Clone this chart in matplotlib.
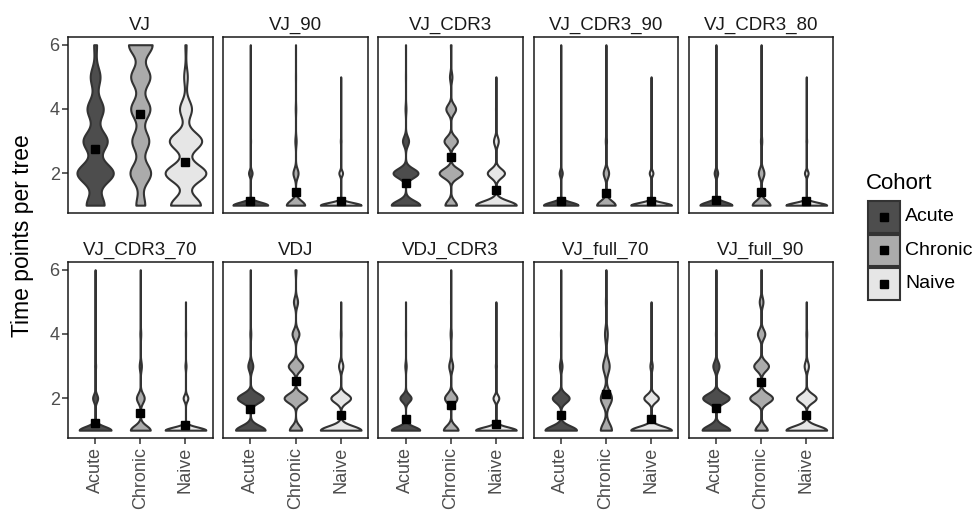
import numpy as np
import matplotlib
matplotlib.use("Agg")
from matplotlib import pyplot as plt
from matplotlib.patches import Rectangle
from matplotlib.lines import Line2D

plt.rcParams['font.family'] = ['Liberation Sans', 'DejaVu Sans']

# number of trees with 1..6 time points, per cohort (Acute, Chronic, Naive)
time_points = np.array([1, 2, 3, 4, 5, 6])
cohorts = ["Acute", "Chronic", "Naive"]
colors = ["#4D4D4D", "#ABABAB", "#E6E6E6"]

methods = ["VJ", "VJ_90", "VJ_CDR3", "VJ_CDR3_90", "VJ_CDR3_80",
           "VJ_CDR3_70", "VDJ", "VDJ_CDR3", "VJ_full_70", "VJ_full_90"]

vj = [[150, 305, 203, 136, 82, 24],
      [246, 570, 468, 531, 531, 654],
      [75, 102, 81, 30, 9, 3]]
vj_90 = [[1780, 180, 24, 8, 4, 4],
         [1440, 400, 100, 40, 14, 6],
         [1800, 160, 30, 8, 2, 0]]
vj_cdr3 = [[940, 820, 200, 30, 6, 4],
           [380, 760, 440, 320, 80, 20],
           [1280, 540, 150, 24, 6, 0]]
vj_cdr3_90 = [[1800, 160, 20, 10, 6, 4],
              [1440, 420, 90, 34, 12, 4],
              [1800, 160, 30, 8, 2, 0]]
vj_cdr3_80 = [[1760, 190, 30, 10, 6, 4],
              [1400, 440, 100, 40, 14, 6],
              [1800, 160, 30, 8, 2, 0]]
vj_cdr3_70 = [[1660, 260, 50, 20, 6, 4],
              [1280, 500, 140, 56, 18, 6],
              [1740, 200, 44, 12, 4, 0]]
vdj = [[960, 840, 160, 30, 6, 4],
       [400, 740, 470, 224, 134, 32],
       [1240, 600, 130, 24, 6, 0]]
vdj_cdr3 = [[1380, 540, 66, 10, 4, 0],
            [900, 760, 240, 70, 24, 6],
            [1700, 240, 44, 12, 4, 0]]
vj_full_70 = [[1220, 650, 100, 20, 6, 4],
              [680, 680, 400, 170, 60, 10],
              [1400, 500, 80, 16, 4, 0]]
vj_full_90 = [[900, 860, 200, 30, 6, 4],
              [400, 740, 480, 240, 120, 20],
              [1240, 600, 130, 24, 6, 0]]

all_counts = [vj, vj_90, vj_cdr3, vj_cdr3_90, vj_cdr3_80,
              vj_cdr3_70, vdj, vdj_cdr3, vj_full_70, vj_full_90]


def violin_density(counts):
    # gaussian kde with R's bw.nrd0, trimmed to the data range (like geom_violin)
    counts = np.asarray(counts)
    x = np.repeat(time_points, counts)
    n = len(x)
    sd = x.std(ddof=1)
    q75, q25 = np.percentile(x, [75, 25])
    lo = min(sd, (q75 - q25) / 1.34)
    if lo == 0:
        lo = sd
    bw = 0.9 * lo * n ** -0.2
    y = np.linspace(x.min(), x.max(), 512)
    k = np.exp(-0.5 * ((y[None, :] - time_points[:, None]) / bw) ** 2)
    dens = (counts[:, None] * k).sum(0) / (n * bw * np.sqrt(2 * np.pi))
    return y, dens, x.mean()


fig = plt.figure(figsize=(9.76, 5.22), dpi=100)
W, H = 976.0, 522.0
pw, ph = 144.6, 176.5

for idx, (name, counts) in enumerate(zip(methods, all_counts)):
    r, c = divmod(idx, 5)
    left = 68 + c * 155.2
    top = 36.7 + r * 225
    ax = fig.add_axes([left / W, 1 - (top + ph) / H, pw / W, ph / H])

    res = [violin_density(cc) for cc in counts]
    dmax = max(d.max() for _, d, _ in res)
    for i, (y, d, m) in enumerate(res):
        w = d / dmax * 0.45
        ax.fill_betweenx(y, i + 1 - w, i + 1 + w, facecolor=colors[i],
                         edgecolor="#333333", linewidth=1.5, zorder=2)
        ax.plot(i + 1, m, marker="s", color="black", markersize=6, zorder=3)

    ax.set_xlim(0.4, 3.6)
    ax.set_ylim(0.75, 6.25)
    ax.set_title(name, fontsize=13.5, color="#1A1A1A", pad=5)
    for s in ax.spines.values():
        s.set_linewidth(1.1)
        s.set_color("#1A1A1A")
    ax.tick_params(colors="#333333", labelcolor="#4D4D4D", length=4,
                   width=1.1, labelsize=13, pad=2)
    if c == 0:
        ax.set_yticks([2, 4, 6])
    else:
        ax.set_yticks([])
    if r == 1:
        ax.set_xticks([1, 2, 3])
        ax.set_xticklabels(cohorts, rotation=90)
    else:
        ax.set_xticks([])

fig.text(23 / W, 1 - 236 / H, "Time points per tree", rotation=90,
         fontsize=16.5, ha="center", va="center", color="black")

# legend drawn by hand so the keys touch like ggplot's
fig.text(866 / W, 1 - 183 / H, "Cohort", fontsize=16, ha="left", va="center")
key = 33.5
for i, (lab, col) in enumerate(zip(cohorts, colors)):
    ky = 200 + i * key
    fig.add_artist(Rectangle((868 / W, 1 - (ky + key - 1) / H), (key - 2) / W, (key - 2) / H,
                             transform=fig.transFigure, facecolor=col,
                             edgecolor="#333333", linewidth=1.5))
    fig.add_artist(Line2D([(868 + key / 2 - 1) / W], [1 - (ky + key / 2) / H],
                          transform=fig.transFigure, marker="s", color="black",
                          linestyle="none", markersize=5.5))
    fig.text(905 / W, 1 - (ky + key / 2) / H, lab, fontsize=14,
             ha="left", va="center")

fig.savefig("out.png", dpi=100)
